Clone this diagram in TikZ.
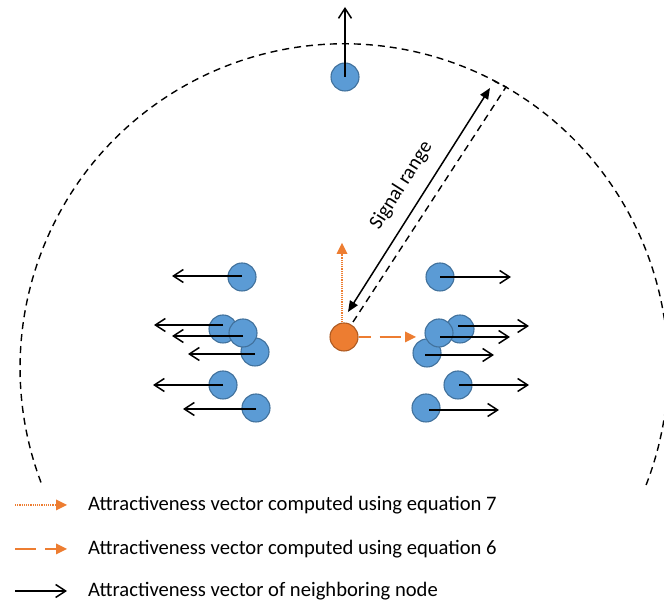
\documentclass[tikz,border=0pt]{standalone}
\usepackage{fontspec}
\setmainfont{Carlito}
\usetikzlibrary{arrows.meta}
\definecolor{nblue}{HTML}{5B9BD5}
\definecolor{nblueb}{HTML}{41719C}
\definecolor{norange}{HTML}{ED7D31}
\definecolor{norangeb}{HTML}{AE5A21}
\tikzset{
  bnode/.style={circle, fill=nblue, draw=nblueb, line width=1.1pt, minimum size=28pt, inner sep=0pt},
  onode/.style={circle, fill=norange, draw=norangeb, line width=1.1pt, minimum size=28pt, inner sep=0pt},
  nbr/.style={line width=1.5pt, -{Straight Barb[length=10pt,width=13pt,line width=1.5pt]}},
  eqseven/.style={norange, line width=2pt, dash pattern=on 1.2pt off 1pt, -{Triangle[length=11pt,width=11pt,sep=0pt,line width=0pt]}},
  eqsix/.style={norange, line width=2.6pt, dash pattern=on 21pt off 9pt, -{Triangle[length=11pt,width=11pt,line width=0pt]}},
  rangecircle/.style={line width=1.4pt, dash pattern=on 7pt off 5pt},
  rangearrow/.style={line width=1.5pt, {Triangle[length=11pt,width=9pt]}-{Triangle[length=11pt,width=9pt]}},
  rangedash/.style={line width=1.4pt, dash pattern=on 7pt off 5pt},
  legtext/.style={anchor=west, font=\fontsize{20.6}{24}\selectfont, inner sep=0pt},
}
\begin{document}
\begin{tikzpicture}[x=1pt,y=1pt]
\useasboundingbox (0,0) rectangle (664,604);
% signal range circle
\draw[rangecircle] (646.1,119) arc[start angle=-21.2, end angle=201.2, radius=324pt];

% central orange node
\node[onode] (o) at (344,267) {};

% signal range
\coordinate (sra) at (348,292);
\coordinate (srb) at (490,516);
\coordinate (sda) at (353,282);
\coordinate (sdb) at (506,517);
\coordinate (sdc) at (494,523);
\draw[rangedash] (sda) -- (sdb) -- (sdc);
\draw[rangearrow] (sra) -- node[pos=0.51, above, sloped, inner sep=0pt, yshift=13pt, font=\fontsize{20.3}{24}\selectfont] {Signal range} (srb);

% orange vectors
\coordinate (e7) at (342,361);
\coordinate (e6) at (416,267);
\draw[eqseven] ([xshift=-2pt]o.north) -- (e7);
\draw[eqsix, dash phase=9pt] (o.east) -- (e6);

% top node
\node[bnode] (t) at (345,527) {};
\coordinate (tt) at (345,597);

% left cluster
\node[bnode] (l1) at (242,327) {};
\node[bnode] (l2) at (223,275) {};
\node[bnode] (l4) at (255,252) {};
\node[bnode] (l3) at (243,271) {};
\node[bnode] (l5) at (223,219) {};
\node[bnode] (l6) at (256,196) {};
% right cluster
\node[bnode] (r1) at (440,327) {};
\node[bnode] (r4) at (427,251) {};
\node[bnode] (r2) at (460,275) {};
\node[bnode] (r3) at (439,271) {};
\node[bnode] (r5) at (458,219) {};
\node[bnode] (r6) at (426,196) {};

\coordinate (tl1) at (172,328);
\coordinate (tl2) at (154,279);
\coordinate (tl3) at (172,268);
\coordinate (tl4) at (188,250);
\coordinate (tl5) at (153,219);
\coordinate (tl6) at (183,195);
\coordinate (tr1) at (511,327);
\coordinate (tr2) at (529,278);
\coordinate (tr3) at (510,267);
\coordinate (tr4) at (494,249);
\coordinate (tr5) at (529,219);
\coordinate (tr6) at (499,194);

\draw[nbr] (t.center) -- (tt);
\draw[nbr] ([yshift=1pt]l1.center) -- (tl1);
\draw[nbr] ([yshift=4pt]l2.center) -- (tl2);
\draw[nbr] ([yshift=-3pt]l3.center) -- (tl3);
\draw[nbr] ([yshift=-2pt]l4.center) -- (tl4);
\draw[nbr] (l5.center) -- (tl5);
\draw[nbr] ([yshift=-1pt]l6.center) -- (tl6);
\draw[nbr] (r1.center) -- (tr1);
\draw[nbr] ([xshift=-2pt,yshift=3pt]r2.center) -- (tr2);
\draw[nbr] ([xshift=1pt,yshift=-4pt]r3.center) -- (tr3);
\draw[nbr] ([xshift=-2pt,yshift=-2pt]r4.center) -- (tr4);
\draw[nbr] ([xshift=1pt]r5.center) -- (tr5);
\draw[nbr] ([xshift=3pt,yshift=-2pt]r6.center) -- (tr6);

% legend
\coordinate (la1) at (15,99);  \coordinate (lb1) at (67,99);
\coordinate (la2) at (15,55);  \coordinate (lb2) at (67,55);
\coordinate (la3) at (15,13);  \coordinate (lb3) at (67,13);
\draw[eqseven] (la1) -- (lb1);
\draw[eqsix] (la2) -- (lb2);
\draw[nbr] (la3) -- (lb3);
\node[legtext] (g1) at (88,99) {Attractiveness vector computed using equation 7};
\node[legtext] (g2) at (88,55) {Attractiveness vector computed using equation 6};
\node[legtext] (g3) at (88,13) {Attractiveness vector of neighboring node};
\end{tikzpicture}
\end{document}
